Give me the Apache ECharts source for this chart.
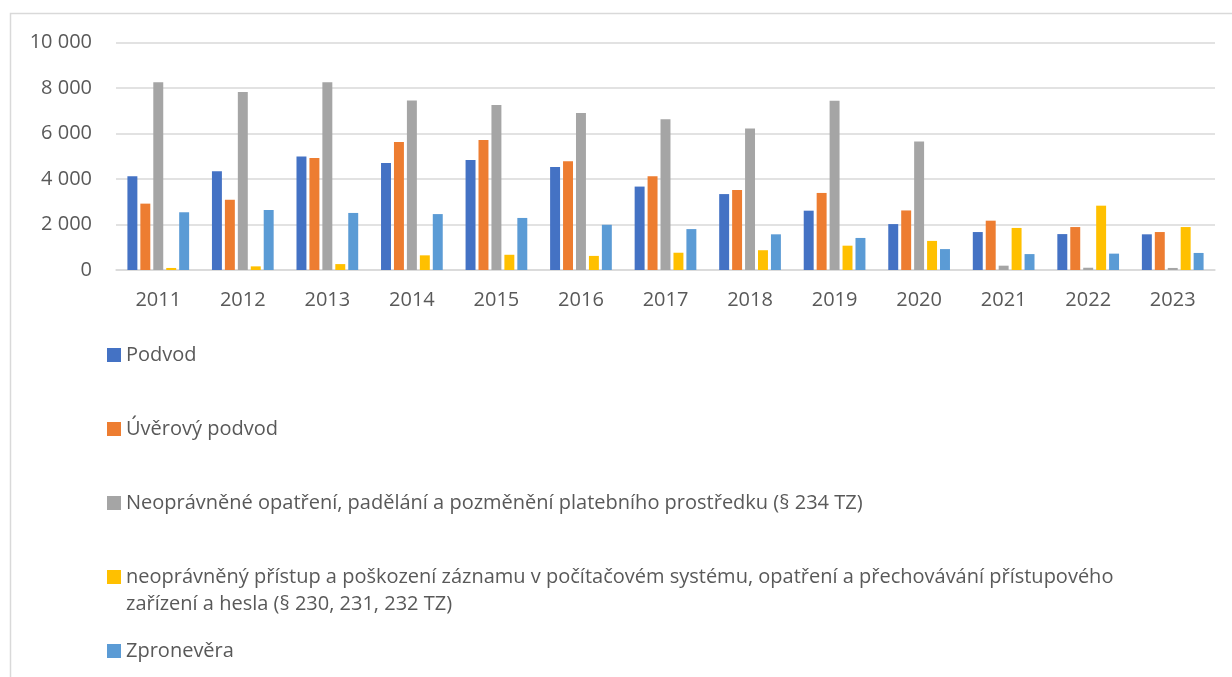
<!DOCTYPE html>
<html>
<head>
<meta charset="utf-8">
<script src="https://cdn.jsdelivr.net/npm/echarts@6/dist/echarts.min.js"></script>
<style>
  html, body { margin: 0; padding: 0; background: #fff; }
  #chart { width: 1232px; height: 677px; }
</style>
</head>
<body>
<div id="chart"></div>
<script>
// roky
var years = ['2011', '2012', '2013', '2014', '2015', '2016', '2017', '2018', '2019', '2020', '2021', '2022', '2023'];

var seriesNames = [
    'Podvod',
    'Úvěrový podvod',
    'Neoprávněné opatření, padělání a pozměnění platebního prostředku (§ 234 TZ)',
    'neoprávněný přístup a poškození záznamu v počítačovém systému, opatření a přechovávání přístupového zařízení a hesla (§ 230, 231, 232 TZ)',
    'Zpronevěra'
];

var podvod     = [4130, 4340, 4990, 4710, 4840, 4530, 3670, 3340, 2610, 2020, 1670, 1580, 1570];
var uverovy    = [2920, 3090, 4930, 5630, 5720, 4780, 4130, 3520, 3390, 2620, 2170, 1890, 1670];
var platebni   = [8260, 7830, 8260, 7460, 7260, 6910, 6630, 6230, 7450, 5650, 190, 100, 90];
var pocitacovy = [90, 160, 260, 645, 670, 620, 760, 870, 1070, 1280, 1850, 2830, 1890];
var zpronevera = [2540, 2640, 2510, 2460, 2290, 1990, 1800, 1570, 1410, 920, 700, 720, 750];

var yTicks = [0, 2000, 4000, 6000, 8000, 10000];

var colors = ['#4472C4', '#ED7D31', '#A5A5A5', '#FFC000', '#5B9BD5'];
var values = [podvod, uverovy, platebni, pocitacovy, zpronevera];

var textColor = '#595959';
var fontName = '"Open Sans", sans-serif';
var fontSize = 20;

var chart = echarts.init(document.getElementById('chart'));

var series = [];
seriesNames.forEach(function (n, i) {
    series.push({
        type: 'bar',
        name: n,
        data: values[i],
        itemStyle: { color: colors[i] },
        barGap: '30%',
        barCategoryGap: '27%'
    });
});

// legenda - kazda polozka zvlast kvuli nepravidelnym mezeram
var legendTops = [341.5, 415.5, 489.5, 536.5, 637.5];
var legends = [];
seriesNames.forEach(function (n, i) {
    var lg = {
        data: [n],
        left: 107,
        top: legendTops[i],
        padding: 0,
        orient: 'vertical',
        icon: 'rect',
        itemWidth: 14,
        itemHeight: 14,
        selectedMode: false,
        textStyle: { color: textColor, fontFamily: fontName, fontSize: fontSize, lineHeight: 27 }
    };
    if (i === 3) {
        // prazdny radek nahore, aby prvni radek sedel s ikonou
        lg.formatter = function (name) {
            return '\n' + name.replace(' zařízení a hesla', '\nzařízení a hesla');
        };
    }
    legends.push(lg);
});

chart.setOption({
    animation: false,
    backgroundColor: '#fff',
    textStyle: { fontFamily: fontName },
    grid: { left: 116, right: 17, top: 42.7, height: 227.3, containLabel: false },
    legend: legends,
    xAxis: {
        type: 'category',
        data: years,
        axisLine: { lineStyle: { color: '#d9d9d9', width: 1.5 } },
        axisTick: { show: false },
        axisLabel: { color: textColor, fontSize: fontSize, margin: 20, fontFamily: fontName }
    },
    yAxis: {
        type: 'value',
        min: yTicks[0],
        max: yTicks[yTicks.length - 1],
        interval: 2000,
        axisLine: { show: false },
        axisTick: { show: false },
        splitLine: { lineStyle: { color: '#d9d9d9', width: 1.5 } },
        axisLabel: {
            color: textColor, fontSize: fontSize, margin: 24, fontFamily: fontName,
            formatter: function (v) {
                return String(v).replace(/\B(?=(\d{3})+(?!\d))/g, ' ');
            }
        }
    },
    graphic: [{
        type: 'rect',
        shape: { x: 10.5, y: 13.5, width: 1300, height: 800 },
        style: { fill: null, stroke: '#d9d9d9', lineWidth: 1.5 },
        silent: true
    }],
    series: series
});
</script>
</body>
</html>
